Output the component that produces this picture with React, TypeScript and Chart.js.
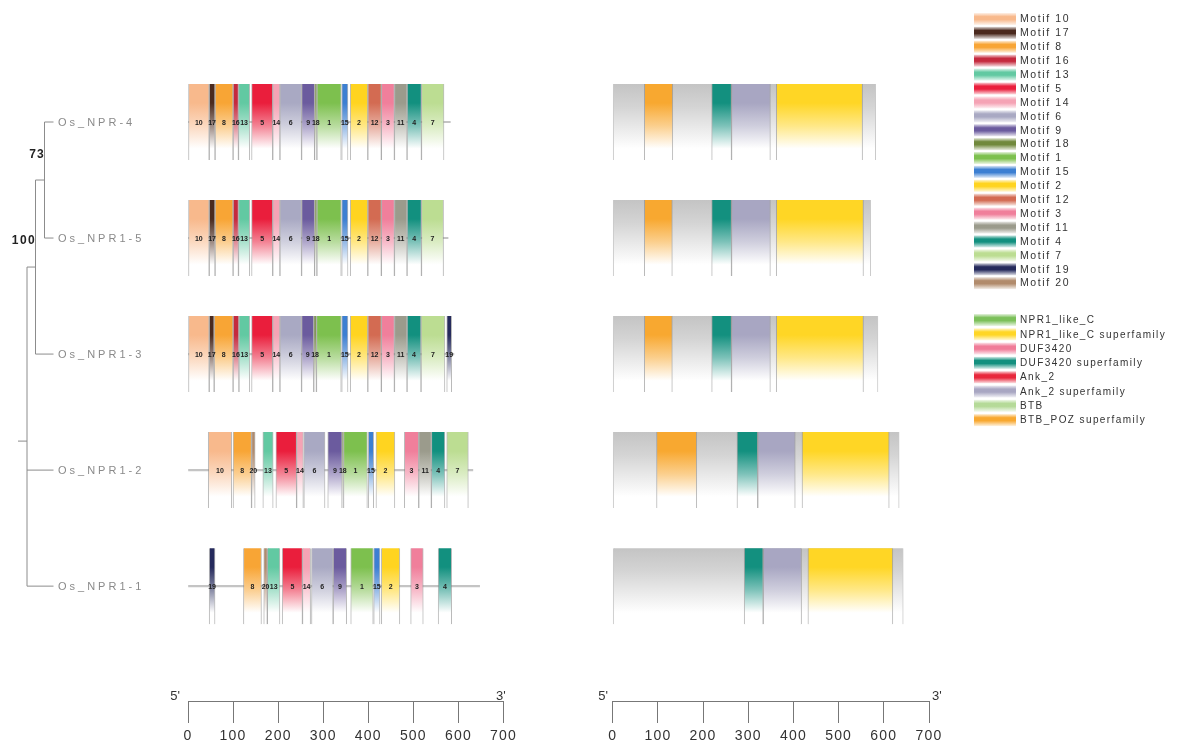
import React, { useEffect, useRef } from "react";
import { Chart, registerables } from "chart.js";
Chart.register(...registerables);

const FONT = '"Liberation Sans", Arial, sans-serif';

// ---------- data ----------
const genes = ["Os_NPR-4", "Os_NPR1-5", "Os_NPR1-3", "Os_NPR1-2", "Os_NPR1-1"];
const geneLengths = [582, 577, 590, 632, 647];
const proteinLengths = [582, 571, 587, 634, 643];
const axisTicks = [0, 100, 200, 300, 400, 500, 600, 700];

// [motif, start, end]
const motifsNpr4 = [[10, 0, 47], [17, 47, 60], [8, 60, 100], [16, 100, 112], [13, 112, 137], [5, 141, 188], [14, 188, 204], [6, 204, 252], [9, 252, 281], [18, 281, 286], [1, 286, 340], [15, 341, 355], [2, 360, 399], [12, 399, 429], [3, 429, 458], [11, 458, 486], [4, 486, 518], [7, 518, 568]];
const motifsNpr15 = [[10, 0, 47], [17, 47, 60], [8, 60, 100], [16, 100, 112], [13, 112, 137], [5, 141, 188], [14, 188, 204], [6, 204, 252], [9, 252, 281], [18, 281, 286], [1, 286, 340], [15, 341, 355], [2, 360, 399], [12, 399, 429], [3, 429, 458], [11, 458, 486], [4, 486, 518], [7, 518, 567]];
const motifsNpr13 = [[10, 0, 47], [17, 47, 58], [8, 58, 100], [16, 100, 113], [13, 113, 137], [5, 141, 188], [14, 188, 204], [6, 204, 252], [9, 252, 279], [18, 279, 285], [1, 285, 340], [15, 341, 355], [2, 360, 399], [12, 399, 429], [3, 429, 458], [11, 458, 486], [4, 486, 517], [7, 517, 570], [19, 574, 585]];
const motifsNpr12 = [[10, 45, 97], [8, 100, 141], [20, 141, 149], [13, 166, 189], [5, 195, 241], [14, 241, 256], [6, 257, 304], [9, 310, 342], [18, 342, 345], [1, 345, 398], [15, 400, 412], [2, 417, 459], [3, 480, 512], [11, 512, 540], [4, 540, 570], [7, 574, 622]];
const motifsNpr11 = [[19, 47, 60], [8, 123, 163], [20, 168, 176], [13, 176, 204], [5, 209, 254], [14, 254, 272], [6, 274, 322], [9, 322, 352], [1, 361, 411], [15, 412, 426], [2, 429, 470], [3, 494, 522], [4, 555, 585]];

const domainsNpr4 = [["BTB_POZ superfamily", 70, 133], ["DUF3420 superfamily", 219, 263], ["Ank_2 superfamily", 263, 349], ["NPR1_like_C superfamily", 362, 553]];
const domainsNpr15 = [["BTB_POZ superfamily", 70, 132], ["DUF3420 superfamily", 219, 263], ["Ank_2 superfamily", 263, 349], ["NPR1_like_C superfamily", 362, 555]];
const domainsNpr13 = [["BTB_POZ superfamily", 70, 132], ["DUF3420 superfamily", 219, 263], ["Ank_2 superfamily", 263, 349], ["NPR1_like_C superfamily", 362, 555]];
const domainsNpr12 = [["BTB_POZ superfamily", 97, 186], ["DUF3420 superfamily", 275, 321], ["Ank_2 superfamily", 321, 404], ["NPR1_like_C superfamily", 419, 612]];
const domainsNpr11 = [["DUF3420 superfamily", 291, 333], ["Ank_2 superfamily", 333, 418], ["NPR1_like_C superfamily", 432, 620]];

const motifOrder = [10, 17, 8, 16, 13, 5, 14, 6, 9, 18, 1, 15, 2, 12, 3, 11, 4, 7, 19, 20];
const motifColors: Record<number, string> = {
  10: "#F8B98C", 17: "#4B2A1E", 8: "#F8A535", 16: "#C52A3E", 13: "#62C9A2",
  5: "#EA1E3C", 14: "#F5A3B5", 6: "#A9A9C3", 9: "#6B5B9E", 18: "#71893C",
  1: "#7DC04E", 15: "#3C7FD2", 2: "#FFD420", 12: "#D36B52", 3: "#F07F9B",
  11: "#9B9B8C", 4: "#12907F", 7: "#BCDD92", 19: "#252A5C", 20: "#B18B6C",
};
const domainNames = ["NPR1_like_C", "NPR1_like_C superfamily", "DUF3420", "DUF3420 superfamily", "Ank_2", "Ank_2 superfamily", "BTB", "BTB_POZ superfamily"];
const domainColors: Record<string, string> = {
  "NPR1_like_C": "#7CC05A",
  "NPR1_like_C superfamily": "#FFD625",
  "DUF3420": "#F07C98",
  "DUF3420 superfamily": "#13907F",
  "Ank_2": "#E8283C",
  "Ank_2 superfamily": "#A8A6C2",
  "BTB": "#B5DA98",
  "BTB_POZ superfamily": "#F8A830",
};
const bootstrapA = "73";
const bootstrapB = "100";

// ---------- helpers ----------
function mix(hex: string, t: number) {
  const n = parseInt(hex.slice(1), 16);
  const r = (n >> 16) & 255, g = (n >> 8) & 255, b = n & 255;
  return `rgb(${Math.round(r + (255 - r) * t)},${Math.round(g + (255 - g) * t)},${Math.round(b + (255 - b) * t)})`;
}
const HALF = 38;
function fadeGrad(ctx: CanvasRenderingContext2D, yc: number, color: string) {
  const g = ctx.createLinearGradient(0, yc - HALF, 0, yc + HALF);
  g.addColorStop(0, color);
  g.addColorStop(0.25, color);
  g.addColorStop(0.55, mix(color, 0.45));
  g.addColorStop(0.85, "#ffffff");
  g.addColorStop(1, "#ffffff");
  return g;
}
function barBg(color: string) {
  return (c: any) => {
    const chart = c.chart;
    if (!chart.chartArea || !c.raw) return color;
    const yc = chart.scales.y.getPixelForValue(c.raw.y);
    return fadeGrad(chart.ctx, yc, color);
  };
}

const rowsMotifs = [motifsNpr4, motifsNpr15, motifsNpr13, motifsNpr12, motifsNpr11];
const rowsDomains = [domainsNpr4, domainsNpr15, domainsNpr13, domainsNpr12, domainsNpr11];

function xScale() {
  return {
    type: "linear", min: 0, max: 700, position: "bottom",
    afterBuildTicks: (s: any) => { s.ticks = axisTicks.map((v) => ({ value: v })); },
    afterFit: (s: any) => { s.height = 52; },
    ticks: { color: "#333", font: { family: FONT, size: 14 }, padding: 5, maxRotation: 0, autoSkip: false },
    grid: { drawOnChartArea: false, drawTicks: true, tickLength: 22, color: "#777", lineWidth: 1 },
    border: { display: true, color: "#777", width: 1 },
  };
}
const yScale = { type: "linear", min: -0.5, max: 4.99, reverse: true, offset: false, display: false };

const spacingPlugin = {
  id: "spacing",
  beforeDraw(chart: any) { chart.ctx.letterSpacing = "1.2px"; },
};

function endLabels(x5: number, x3: number) {
  return {
    id: "endLabels",
    afterDraw(chart: any) {
      const ctx = chart.ctx;
      const y = chart.chartArea.bottom;
      ctx.save();
      ctx.letterSpacing = "0px";
      ctx.font = `13px ${FONT}`;
      ctx.fillStyle = "#333";
      ctx.textBaseline = "bottom";
      ctx.textAlign = "right";
      ctx.fillText("5'", x5, y + 2);
      ctx.textAlign = "left";
      ctx.fillText("3'", x3, y + 2);
      ctx.restore();
    },
  };
}

const motifLabelPlugin = {
  id: "motifLabels",
  afterDatasetsDraw(chart: any) {
    const ctx = chart.ctx;
    ctx.save();
    ctx.letterSpacing = "0px";
    ctx.font = `bold 7px ${FONT}`;
    ctx.fillStyle = "#222";
    ctx.textAlign = "center";
    ctx.textBaseline = "middle";
    chart.data.datasets.forEach((ds: any, di: number) => {
      if (ds.motif == null) return;
      chart.getDatasetMeta(di).data.forEach((el: any) => {
        ctx.fillText(String(ds.motif), (el.x + el.base) / 2, el.y + 1);
      });
    });
    ctx.restore();
  },
};

const treePlugin = {
  id: "tree",
  afterDraw(chart: any) {
    const ctx = chart.ctx;
    const ys = genes.map((_, i) => chart.scales.y.getPixelForValue(i));
    const xA = 44.5, xB = 35.5, xC = 27, xLeafEnd = 53.5;
    const yA = (ys[0] + ys[1]) / 2;
    const yB = (yA + ys[2]) / 2;
    const yC = (yB + ys[3] + ys[4]) / 3;
    ctx.save();
    ctx.strokeStyle = "#8c8c8c";
    ctx.lineWidth = 1;
    const line = (x1: number, y1: number, x2: number, y2: number) => {
      ctx.beginPath(); ctx.moveTo(x1, y1); ctx.lineTo(x2, y2); ctx.stroke();
    };
    line(xA, ys[0], xA, ys[1]);
    line(xA, ys[0], xLeafEnd, ys[0]);
    line(xA, ys[1], xLeafEnd, ys[1]);
    line(xB, yA, xA, yA);
    line(xB, yA, xB, ys[2]);
    line(xB, ys[2], xLeafEnd, ys[2]);
    line(xC, yB, xB, yB);
    line(xC, yB, xC, ys[4]);
    line(xC, ys[3], xLeafEnd, ys[3]);
    line(xC, ys[4], xLeafEnd, ys[4]);
    line(18, yC, xC, yC);
    ctx.fillStyle = "#222";
    ctx.font = `bold 12px ${FONT}`;
    ctx.textBaseline = "middle";
    ctx.textAlign = "center";
    ctx.letterSpacing = "1px";
    ctx.fillText(bootstrapA, 37, yA - 25);
    ctx.letterSpacing = "1.5px";
    ctx.fillText(bootstrapB, 24, ys[1] + 3);
    ctx.fillStyle = "#8a8a8a";
    ctx.font = `11px ${FONT}`;
    ctx.textAlign = "left";
    ctx.letterSpacing = "3px";
    genes.forEach((g, i) => ctx.fillText(g, 58, ys[i] + 1));
    ctx.restore();
  },
};

function swatchGrad(ctx: CanvasRenderingContext2D, y: number, color: string) {
  const g = ctx.createLinearGradient(0, y - 6, 0, y + 6);
  g.addColorStop(0, mix(color, 0.8));
  g.addColorStop(0.3, color);
  g.addColorStop(0.55, color);
  g.addColorStop(1, mix(color, 0.85));
  return g;
}

const legendPlugin = {
  id: "customLegend",
  afterDraw(chart: any) {
    const ctx = chart.ctx;
    ctx.save();
    ctx.textBaseline = "middle";
    ctx.textAlign = "left";
    motifOrder.forEach((m, i) => {
      const y = 19 + i * 13.9;
      ctx.fillStyle = swatchGrad(ctx, y, motifColors[m]);
      ctx.fillRect(974, y - 6, 42, 12);
      ctx.fillStyle = "#333";
      ctx.font = `10.5px ${FONT}`;
      ctx.letterSpacing = "1.6px";
      ctx.fillText("Motif " + m, 1020, y + 0.5);
    });
    domainNames.forEach((d, i) => {
      const y = 320 + i * 14.3;
      ctx.fillStyle = swatchGrad(ctx, y, domainColors[d]);
      ctx.fillRect(974, y - 6, 42, 12);
      ctx.fillStyle = "#333";
      ctx.font = `10px ${FONT}`;
      ctx.letterSpacing = "1.4px";
      ctx.fillText(d, 1020, y + 0.5);
    });
    ctx.restore();
  },
};

export default function App() {
  const leftRef = useRef<HTMLCanvasElement>(null);
  const rightRef = useRef<HTMLCanvasElement>(null);

  useEffect(() => {
    const border = { left: 1, right: 1, top: 0, bottom: 0 };
    const backbone = {
      label: "gene",
      data: geneLengths.map((len, i) => ({ x: [0, len], y: i })),
      backgroundColor: "#c4c4c4",
      borderWidth: 0,
      barThickness: 1.5,
      grouped: false,
      order: 10,
    };
    const motifSets = motifOrder.map((m) => ({
      label: "Motif " + m,
      motif: m,
      data: rowsMotifs.flatMap((row, i) =>
        row.filter((r) => r[0] === m).map((r) => ({ x: [r[1], r[2]], y: i }))),
      backgroundColor: barBg(motifColors[m]),
      borderColor: "rgba(130,130,130,0.55)",
      borderWidth: border,
      borderSkipped: false,
      barThickness: 76,
      grouped: false,
      order: 1,
    }));

    const left = new Chart(leftRef.current!, {
      type: "bar",
      data: { datasets: [backbone, ...motifSets] as any },
      options: {
        indexAxis: "y",
        animation: false,
        responsive: false,
        events: [],
        layout: { padding: { left: 188, right: 1192 - 503.5, top: 64, bottom: 0 } },
        plugins: { legend: { display: false }, tooltip: { enabled: false } },
        scales: { x: xScale() as any, y: yScale as any },
      },
      plugins: [spacingPlugin, motifLabelPlugin, treePlugin, endLabels(180, 496)],
    });

    const protein = {
      label: "protein",
      data: proteinLengths.map((len, i) => ({ x: [0, len], y: i })),
      backgroundColor: (c: any) => {
        const chart = c.chart;
        if (!chart.chartArea || !c.raw) return "#ccc";
        const yc = chart.scales.y.getPixelForValue(c.raw.y);
        const g = chart.ctx.createLinearGradient(0, yc - HALF, 0, yc + HALF);
        g.addColorStop(0, "#c4c4c4");
        g.addColorStop(0.3, "#d4d4d4");
        g.addColorStop(0.85, "#ffffff");
        g.addColorStop(1, "#ffffff");
        return g;
      },
      borderColor: "rgba(150,150,150,0.5)",
      borderWidth: border,
      borderSkipped: false,
      barThickness: 76,
      grouped: false,
      order: 10,
    };
    const usedDomains = ["BTB_POZ superfamily", "DUF3420 superfamily", "Ank_2 superfamily", "NPR1_like_C superfamily"];
    const domainSets = usedDomains.map((d) => ({
      label: d,
      data: rowsDomains.flatMap((row, i) =>
        row.filter((r) => r[0] === d).map((r) => ({ x: [r[1] as number, r[2] as number], y: i }))),
      backgroundColor: barBg(domainColors[d]),
      borderColor: "rgba(130,130,130,0.55)",
      borderWidth: border,
      borderSkipped: false,
      barThickness: 76,
      grouped: false,
      order: 1,
    }));

    const right = new Chart(rightRef.current!, {
      type: "bar",
      data: { datasets: [protein, ...domainSets] as any },
      options: {
        indexAxis: "y",
        animation: false,
        responsive: false,
        events: [],
        layout: { padding: { left: 612.7, right: 1192 - 929, top: 64, bottom: 0 } },
        plugins: { legend: { display: false }, tooltip: { enabled: false } },
        scales: { x: xScale() as any, y: yScale as any },
      },
      plugins: [spacingPlugin, legendPlugin, endLabels(608, 932)],
    });

    return () => { left.destroy(); right.destroy(); };
  }, []);

  const cs: React.CSSProperties = { position: "absolute", left: 0, top: 0 };
  return (
    <div style={{ position: "fixed", left: 0, top: 0, width: 1192, height: 753, background: "#fff" }}>
      <canvas ref={leftRef} width={1192} height={753} style={cs} />
      <canvas ref={rightRef} width={1192} height={753} style={cs} />
    </div>
  );
}
